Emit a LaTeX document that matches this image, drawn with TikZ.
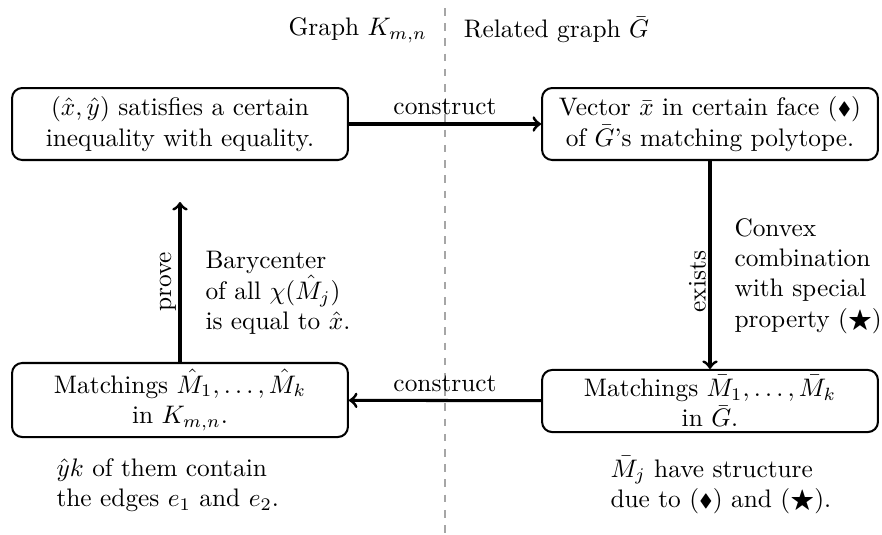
\documentclass[tikz,border=0pt]{standalone}
\usepackage{amsmath,amssymb}
\newcommand{\smdia}{\mathord{\vcenter{\hbox{$\scriptstyle\blacklozenge$}}}}
\begin{document}
\begin{tikzpicture}[x=0.3945pt,y=-0.3945pt,
  box/.style={draw,thick,rounded corners=4pt,align=center,minimum width=132.5pt,inner sep=0pt},
  conn/.style={very thick,->},
  lbl/.style={inner sep=1pt},
  note/.style={align=left,inner sep=0pt}]
\useasboundingbox (0,0) rectangle (882,534);
% divider
\coordinate (dtop) at (445,8);
\coordinate (dbot) at (445,534);
\draw[gray!70,dashed] (dtop) -- (dbot);
\node[anchor=east] (tleft) at (436,30) {Graph $K_{m,n}$};
\node[anchor=west] (tright) at (455,30) {Related graph $\bar G$};
% boxes
\node[box,minimum height=28.4pt] (tl) at (180,124) {$(\hat x,\hat y)$ satisfies a certain\\ inequality with equality.};
\node[box,minimum height=28.4pt] (tr) at (710,124) {Vector $\bar x$ in certain face $(\smdia)$\\ of $\bar G$'s matching polytope.};
\node[box,minimum height=29.2pt] (bl) at (180,400) {Matchings $\hat M_1,\dots,\hat M_k$\\ in $K_{m,n}$.};
\node[box,minimum height=24.5pt] (br) at (710,401) {Matchings $\bar M_1,\dots,\bar M_k$\\ in $\bar G$.};
% connectors
\draw[conn] (tl) -- node[lbl,above=2pt] (c1) {construct} (tr);
\draw[conn] (br) -- node[lbl,above=2pt] (c2) {construct} (bl);
\coordinate (ptip) at (180,202);
\draw[conn] (bl.north) -- node[lbl,rotate=90,anchor=south] (pv) {prove} (ptip);
\draw[conn] (tr.south) -- node[pos=0.58,lbl,rotate=90,anchor=south] (ex) {exists} (br.north);
% side texts
\node[note,anchor=west] (bary) at (205,293) {Barycenter\\ of all $\chi(\hat M_j)$\\ is equal to $\hat x$.};
\node[note,anchor=west] (conv) at (734,276) {Convex\\ combination\\ with special\\ property $(\bigstar)$};
\node[note,anchor=west] (nl) at (56,485) {$\hat y k$ of them contain\\ the edges $e_1$ and $e_2$.};
\node[note,anchor=west] (nr) at (610,485) {$\bar M_j$ have structure\\ due to $(\smdia)$ and $(\bigstar)$.};
\end{tikzpicture}
\end{document}
